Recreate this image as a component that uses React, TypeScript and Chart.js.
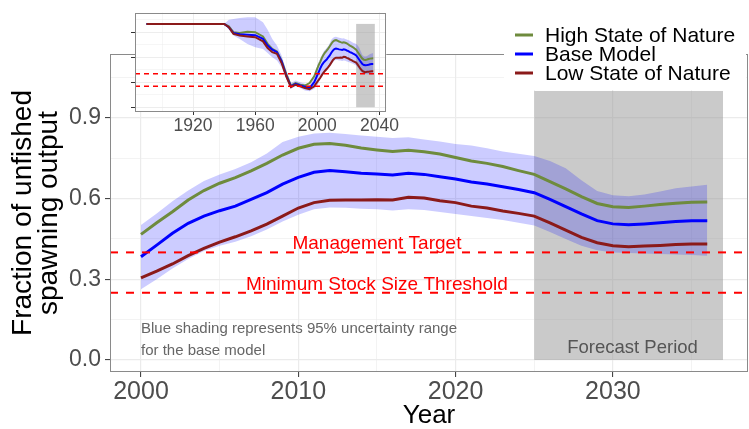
import React, { useEffect, useRef } from "react";
import { Chart, registerables } from "chart.js";

Chart.register(...registerables);

const FONT = '"Liberation Sans", Arial, Helvetica, sans-serif';

const seriesNames = ["High State of Nature", "Base Model", "Low State of Nature"];
const seriesColors = ["#6E8B3D", "#0000FF", "#8B1A1A"];

// Main panel: 2000-2036
const years = [
  2000, 2001, 2002, 2003, 2004, 2005, 2006, 2007, 2008, 2009,
  2010, 2011, 2012, 2013, 2014, 2015, 2016, 2017, 2018, 2019,
  2020, 2021, 2022, 2023, 2024, 2025, 2026, 2027, 2028, 2029,
  2030, 2031, 2032, 2033, 2034, 2035, 2036,
];
const highNature = [
  0.467, 0.51, 0.551, 0.595, 0.63, 0.657, 0.678, 0.703, 0.731, 0.762,
  0.787, 0.802, 0.805, 0.798, 0.788, 0.781, 0.775, 0.78, 0.774, 0.766,
  0.753, 0.74, 0.731, 0.719, 0.704, 0.69, 0.663, 0.636, 0.607, 0.582,
  0.57, 0.567, 0.572, 0.578, 0.583, 0.586, 0.587,
];
const baseModel = [
  0.384, 0.427, 0.471, 0.508, 0.535, 0.555, 0.572, 0.597, 0.622, 0.654,
  0.679, 0.698, 0.704, 0.7, 0.694, 0.691, 0.688, 0.694, 0.69, 0.681,
  0.673, 0.662, 0.654, 0.644, 0.634, 0.622, 0.597, 0.57, 0.543, 0.518,
  0.506, 0.503, 0.506, 0.51, 0.515, 0.518, 0.518,
];
const lowNature = [
  0.305, 0.33, 0.357, 0.388, 0.415, 0.438, 0.458, 0.48, 0.505, 0.535,
  0.565, 0.585, 0.594, 0.595, 0.595, 0.596, 0.595, 0.605, 0.602, 0.592,
  0.585, 0.572, 0.565, 0.554, 0.545, 0.535, 0.51, 0.483, 0.456, 0.436,
  0.425, 0.421, 0.424, 0.426, 0.429, 0.431, 0.431,
];
const baseUpper = [
  0.502, 0.545, 0.59, 0.63, 0.665, 0.69, 0.71, 0.735, 0.768, 0.81,
  0.83, 0.842, 0.845, 0.84, 0.835, 0.83, 0.825, 0.828, 0.82, 0.812,
  0.803, 0.797, 0.787, 0.775, 0.767, 0.758, 0.74, 0.713, 0.668, 0.628,
  0.612, 0.609, 0.615, 0.626, 0.638, 0.645, 0.651,
];
const baseLower = [
  0.263, 0.3, 0.34, 0.375, 0.405, 0.425, 0.44, 0.46, 0.485, 0.515,
  0.54, 0.56, 0.567, 0.566, 0.562, 0.56, 0.556, 0.56, 0.558, 0.55,
  0.543, 0.535, 0.528, 0.52, 0.51, 0.5, 0.476, 0.45, 0.425, 0.408,
  0.4, 0.398, 0.396, 0.394, 0.392, 0.39, 0.388,
];

// Inset: historical part (before 2000)
const histYears = [1890, 1940, 1943, 1946, 1950, 1955, 1960, 1965, 1968, 1971, 1974, 1977, 1980, 1983, 1986, 1989, 1992, 1995, 1998];
const histHigh = [1.0, 1.0, 0.97, 0.9, 0.89, 0.905, 0.9, 0.85, 0.76, 0.7, 0.67, 0.56, 0.4, 0.26, 0.29, 0.27, 0.26, 0.29, 0.37];
const histBase = [1.0, 1.0, 0.96, 0.89, 0.875, 0.87, 0.865, 0.82, 0.74, 0.69, 0.66, 0.55, 0.38, 0.25, 0.28, 0.26, 0.245, 0.23, 0.3];
const histLow = [1.0, 1.0, 0.96, 0.88, 0.86, 0.85, 0.84, 0.79, 0.71, 0.66, 0.64, 0.53, 0.37, 0.24, 0.27, 0.25, 0.23, 0.215, 0.25];
const histUpper = [1.0, 1.0, 1.05, 1.06, 1.07, 1.08, 1.08, 1.02, 0.93, 0.82, 0.74, 0.62, 0.44, 0.29, 0.32, 0.3, 0.28, 0.27, 0.36];
const histLower = [1.0, 1.0, 0.93, 0.86, 0.82, 0.76, 0.72, 0.7, 0.65, 0.6, 0.56, 0.48, 0.34, 0.22, 0.25, 0.23, 0.2, 0.19, 0.22];

const managementTarget = 0.4;
const msst = 0.25;
const forecastStart = 2025;
const forecastEnd = 2037;
const forecastTop = 1.0;

const mainXTicks = [2000, 2005, 2010, 2015, 2020, 2025, 2030, 2035];
const mainXLabels = ["2000", "", "2010", "", "2020", "", "2030", ""];
const yTickValues = [0, 0.15, 0.3, 0.45, 0.6, 0.75, 0.9, 1.05];
const yTickLabels = ["0.0", "", "0.3", "", "0.6", "", "0.9", ""];
const insetXTicks = [1900, 1920, 1940, 1960, 1980, 2000, 2020, 2040];
const insetXLabels = ["", "1920", "", "1960", "", "2000", "", "2040"];
const insetYLabels = [" ", "", " ", "", " ", "", " ", ""];

const pts = (xs: number[], ys: number[]) => xs.map((x, i) => ({ x, y: ys[i] }));

const GRID = "#ebebeb";
const TICKC = "#333333";
const BORDER = "#8a8a8a";
const BAND = "rgba(0,0,255,0.2)";
const FORECAST = "rgba(150,150,150,0.5)";

function makeDatasets(xs: number[], hi: number[], base: number[], lo: number[], up: number[], dn: number[], lw: number) {
  return [
    { data: pts(xs, up), borderWidth: 0, pointRadius: 0, fill: "+1", backgroundColor: BAND, borderColor: "rgba(0,0,0,0)", order: 10 },
    { data: pts(xs, dn), borderWidth: 0, pointRadius: 0, fill: false, borderColor: "rgba(0,0,0,0)", order: 11 },
    { label: seriesNames[0], data: pts(xs, hi), borderColor: seriesColors[0], borderWidth: lw, pointRadius: 0, fill: false, order: 3 },
    { label: seriesNames[1], data: pts(xs, base), borderColor: seriesColors[1], borderWidth: lw, pointRadius: 0, fill: false, order: 2 },
    { label: seriesNames[2], data: pts(xs, lo), borderColor: seriesColors[2], borderWidth: lw, pointRadius: 0, fill: false, order: 1 },
  ];
}

function axisCfg(min: number, max: number, tickVals: number[], labels: string[], fontSize: number, labelColor: string, tickLen: number, pad: number, majorW: number, minorW: number, fit: (s: any) => void) {
  return {
    type: "linear" as const,
    min,
    max,
    afterBuildTicks: (s: any) => {
      s.ticks = tickVals.map((v) => ({ value: v }));
    },
    afterFit: fit,
    ticks: {
      autoSkip: false,
      maxRotation: 0,
      minRotation: 0,
      padding: pad,
      color: labelColor,
      font: { family: FONT, size: fontSize },
      callback: (_v: any, i: number) => labels[i],
    },
    grid: {
      color: GRID,
      lineWidth: (c: any) => (labels[c.index] !== "" ? majorW : minorW),
      tickColor: (c: any) => (labels[c.index] !== "" ? TICKC : "rgba(0,0,0,0)"),
      tickLength: tickLen,
      tickWidth: 1,
      drawTicks: true,
    },
    border: { display: false },
  };
}

function hline(chart: any, v: number, width: number, dash: number[]) {
  const { ctx, chartArea } = chart;
  const y = chart.scales.y.getPixelForValue(v);
  ctx.save();
  ctx.strokeStyle = "#FF0000";
  ctx.lineWidth = width;
  ctx.setLineDash(dash);
  ctx.beginPath();
  ctx.moveTo(chartArea.left, y);
  ctx.lineTo(chartArea.right, y);
  ctx.stroke();
  ctx.restore();
}

function forecastRect(chart: any) {
  const { ctx, chartArea } = chart;
  const xs = chart.scales.x;
  const ys = chart.scales.y;
  const x0 = xs.getPixelForValue(forecastStart);
  const x1 = xs.getPixelForValue(forecastEnd);
  const y0 = ys.getPixelForValue(forecastTop);
  const y1 = ys.getPixelForValue(0);
  ctx.save();
  ctx.beginPath();
  ctx.rect(chartArea.left, chartArea.top, chartArea.right - chartArea.left, chartArea.bottom - chartArea.top);
  ctx.clip();
  ctx.fillStyle = FORECAST;
  ctx.fillRect(x0, y0, x1 - x0, y1 - y0);
  ctx.restore();
}

function borderBox(chart: any) {
  const { ctx, chartArea } = chart;
  ctx.save();
  ctx.strokeStyle = BORDER;
  ctx.lineWidth = 1;
  ctx.strokeRect(Math.round(chartArea.left) + 0.5, Math.round(chartArea.top) + 0.5, Math.round(chartArea.right - chartArea.left) - 1, Math.round(chartArea.bottom - chartArea.top) - 1);
  ctx.restore();
}

const mainPlugin = {
  id: "mainDecor",
  beforeDatasetsDraw(chart: any) {
    forecastRect(chart);
  },
  afterDatasetsDraw(chart: any) {
    const { ctx, chartArea } = chart;
    const xs = chart.scales.x;
    const ys = chart.scales.y;
    hline(chart, managementTarget, 2, [8, 8]);
    hline(chart, msst, 2, [8, 8]);

    ctx.save();
    ctx.fillStyle = "#FF0000";
    ctx.font = `19px ${FONT}`;
    ctx.textAlign = "center";
    ctx.textBaseline = "alphabetic";
    ctx.fillText("Management Target", xs.getPixelForValue(2015), ys.getPixelForValue(managementTarget) - 3);
    ctx.fillText("Minimum Stock Size Threshold", xs.getPixelForValue(2015), ys.getPixelForValue(msst) - 3);

    ctx.fillStyle = "#666666";
    ctx.font = `15px ${FONT}`;
    ctx.textAlign = "left";
    ctx.fillText("Blue shading represents 95% uncertainty range", xs.getPixelForValue(2000), ys.getPixelForValue(0.1));
    ctx.fillText("for the base model", xs.getPixelForValue(2000), ys.getPixelForValue(0.019));

    ctx.fillStyle = "#555555";
    ctx.font = `18.5px ${FONT}`;
    ctx.textAlign = "center";
    ctx.fillText("Forecast Period", xs.getPixelForValue(2031.25), ys.getPixelForValue(0.027));
    ctx.restore();

    borderBox(chart);

    // legend
    ctx.save();
    ctx.fillStyle = "#ffffff";
    ctx.fillRect(504, 18, 242, 72);
    const rowY = [35, 54, 73];
    ctx.font = `21px ${FONT}`;
    ctx.textAlign = "left";
    ctx.textBaseline = "middle";
    for (let i = 0; i < 3; i++) {
      ctx.strokeStyle = seriesColors[i];
      ctx.lineWidth = 3;
      ctx.beginPath();
      ctx.moveTo(515, rowY[i]);
      ctx.lineTo(533, rowY[i]);
      ctx.stroke();
      ctx.fillStyle = "#000000";
      ctx.fillText(seriesNames[i], 545, rowY[i] + 1);
    }
    ctx.restore();

    // axis titles
    ctx.save();
    ctx.fillStyle = "#000000";
    ctx.font = `26px ${FONT}`;
    ctx.textAlign = "center";
    ctx.textBaseline = "alphabetic";
    ctx.fillText("Year", (chartArea.left + chartArea.right) / 2, 423);
    ctx.rotate(-Math.PI / 2);
    ctx.font = `28px ${FONT}`;
    const cy = (chartArea.top + chartArea.bottom) / 2;
    ctx.fillText("Fraction of unfished", -cy, 31);
    ctx.fillText("spawning output", -cy, 57);
    ctx.restore();
  },
};

const insetPlugin = {
  id: "insetDecor",
  beforeDraw(chart: any) {
    const { ctx, chartArea } = chart;
    ctx.save();
    ctx.fillStyle = "#ffffff";
    ctx.fillRect(chartArea.left, chartArea.top, chartArea.right - chartArea.left, chartArea.bottom - chartArea.top);
    ctx.restore();
  },
  beforeDatasetsDraw(chart: any) {
    forecastRect(chart);
  },
  afterDatasetsDraw(chart: any) {
    hline(chart, managementTarget, 1.5, [5, 4]);
    hline(chart, msst, 1.5, [5, 4]);
    borderBox(chart);
  },
};

export default function App() {
  const mainRef = useRef<HTMLCanvasElement | null>(null);
  const insetRef = useRef<HTMLCanvasElement | null>(null);

  useEffect(() => {
    if (!mainRef.current || !insetRef.current) return;
    const main = new Chart(mainRef.current, {
      type: "line",
      data: { datasets: makeDatasets(years, highNature, baseModel, lowNature, baseUpper, baseLower, 3) as any },
      options: {
        responsive: false,
        animation: false,
        devicePixelRatio: 1,
        layout: { padding: { top: 54, right: 1, left: 0, bottom: 0 } },
        plugins: { legend: { display: false }, tooltip: { enabled: false } },
        scales: {
          x: axisCfg(1998.03, 2038.59, mainXTicks, mainXLabels, 25, "#4d4d4d", 5, 0, 1.2, 0.6, (s: any) => { s.height = 57; }) as any,
          y: axisCfg(-0.0446, 1.1375, yTickValues, yTickLabels, 23, "#4d4d4d", 5, 4, 1.2, 0.6, (s: any) => { s.width = 110; }) as any,
        },
      },
      plugins: [mainPlugin],
    });

    const insetYears = [...histYears, ...years];
    const inset = new Chart(insetRef.current, {
      type: "line",
      data: {
        datasets: makeDatasets(
          insetYears,
          [...histHigh, ...highNature],
          [...histBase, ...baseModel],
          [...histLow, ...lowNature],
          [...histUpper, ...baseUpper],
          [...histLower, ...baseLower],
          2
        ) as any,
      },
      options: {
        responsive: false,
        animation: false,
        devicePixelRatio: 1,
        layout: { padding: { top: 9, right: 3, left: 0, bottom: 0 } },
        plugins: { legend: { display: false }, tooltip: { enabled: false } },
        scales: {
          x: axisCfg(1882.6, 2044.4, insetXTicks, insetXLabels, 17.5, "#4d4d4d", 4, 1, 0.9, 0.45, (s: any) => { s.height = 34; }) as any,
          y: axisCfg(-0.046, 1.137, yTickValues, insetYLabels, 17.5, "rgba(0,0,0,0)", 4, 2, 0.9, 0.45, (s: any) => { s.width = 35; }) as any,
        },
      },
      plugins: [insetPlugin],
    });

    return () => {
      main.destroy();
      inset.destroy();
    };
  }, []);

  return (
    <div style={{ position: "absolute", left: 0, top: 0, width: 749, height: 429, background: "#ffffff" }}>
      <canvas ref={mainRef} width={749} height={429} style={{ position: "absolute", left: 0, top: 0, width: 749, height: 429 }} />
      <canvas ref={insetRef} width={300} height={145} style={{ position: "absolute", left: 100, top: 0, width: 300, height: 145 }} />
    </div>
  );
}
